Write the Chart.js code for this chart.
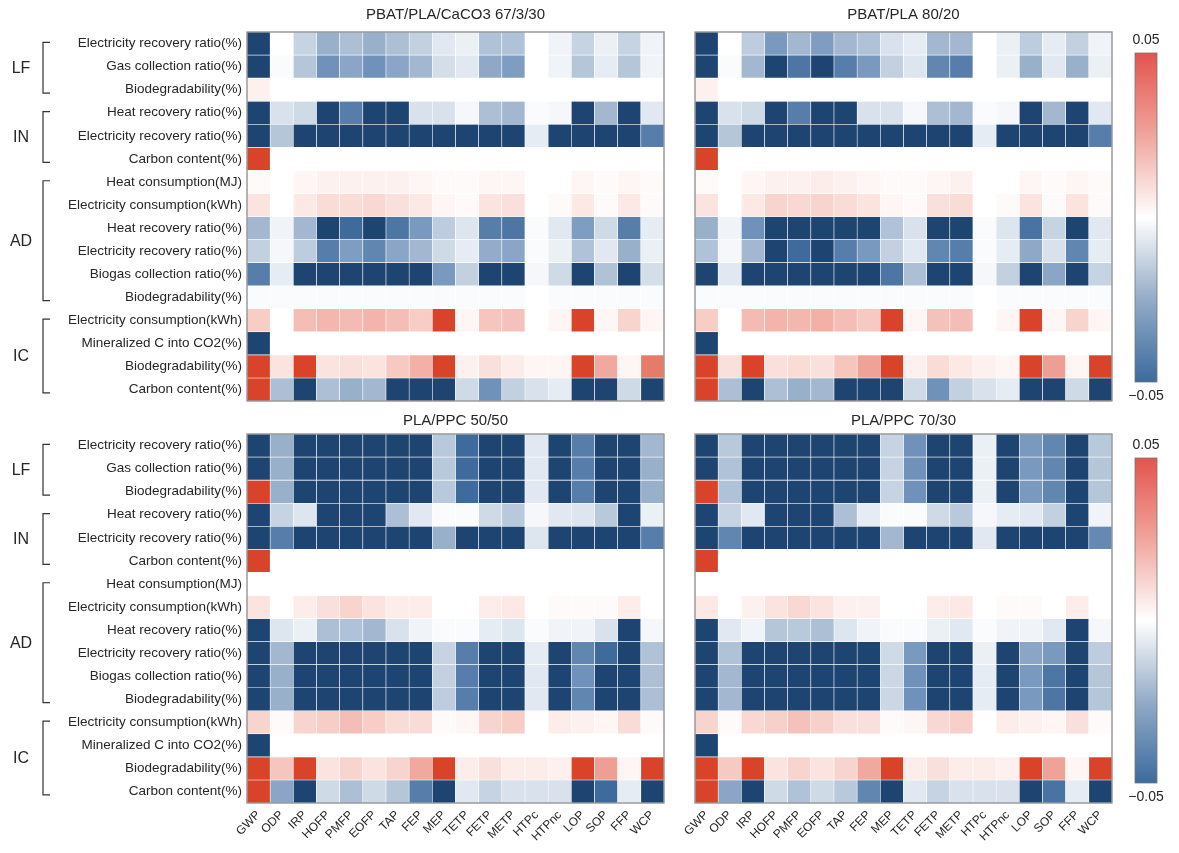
<!DOCTYPE html>
<html>
<head>
<meta charset="utf-8">
<title>Sensitivity heatmaps</title>
<script src="https://cdn.jsdelivr.net/npm/chart.js@4.4.1/dist/chart.umd.min.js"></script>
<style>
  body { margin: 0; background: #fff; }
  #wrap { position: relative; width: 1179px; height: 853px; overflow: hidden; }
  canvas { position: absolute; }
</style>
</head>
<body>
<div id="wrap">
  <canvas id="p1" width="680" height="415" style="left:0px;top:0px"></canvas>
  <canvas id="p2" width="490" height="415" style="left:640px;top:0px"></canvas>
  <canvas id="p3" width="680" height="443" style="left:0px;top:410px"></canvas>
  <canvas id="p4" width="490" height="443" style="left:640px;top:410px"></canvas>
  <canvas id="cb1" width="64" height="380" style="left:1115px;top:25px"></canvas>
  <canvas id="cb2" width="64" height="380" style="left:1115px;top:425px"></canvas>
</div>
<script>
// Statics
var METRICS = ['GWP', 'ODP', 'IRP', 'HOFP', 'PMFP', 'EOFP', 'TAP', 'FEP', 'MEP', 'TETP',
               'FETP', 'METP', 'HTPc', 'HTPnc', 'LOP', 'SOP', 'FFP', 'WCP'];

var ROW_LABELS = [
    'Electricity recovery ratio(%)', 'Gas collection ratio(%)', 'Biodegradability(%)',
    'Heat recovery ratio(%)', 'Electricity recovery ratio(%)', 'Carbon content(%)',
    'Heat consumption(MJ)', 'Electricity consumption(kWh)', 'Heat recovery ratio(%)',
    'Electricity recovery ratio(%)', 'Biogas collection ratio(%)', 'Biodegradability(%)',
    'Electricity consumption(kWh)', 'Mineralized C into CO2(%)', 'Biodegradability(%)', 'Carbon content(%)'
];

var GROUP_NAMES = ['LF', 'IN', 'AD', 'IC'];
var GROUP_SIZES = [3, 3, 6, 4];

var PANEL_TITLES = ['PBAT/PLA/CaCO3 67/3/30', 'PBAT/PLA 80/20', 'PLA/PPC 50/50', 'PLA/PPC 70/30'];

var CB_TICKS = [0.05, -0.05];
var CB_LABELS = ['0.05', '\u22120.05'];

// one row per parameter, one column per metric (same order as METRICS)
var PBAT_CACO3 = [
    [-0.05, 0, -0.012, -0.022, -0.018, -0.022, -0.018, -0.013, -0.006, -0.004, -0.017, -0.017, 0, -0.003, -0.012, -0.004, -0.012, -0.003],
    [-0.05, -0.001, -0.016, -0.030, -0.025, -0.030, -0.025, -0.020, -0.009, -0.006, -0.024, -0.027, 0, -0.003, -0.016, -0.005, -0.016, -0.003],
    [0.003, 0, 0, 0, 0, 0, 0, 0, 0, 0, 0, 0, 0, 0, 0, 0, 0, 0],
    [-0.05, -0.008, -0.010, -0.05, -0.035, -0.05, -0.05, -0.008, -0.008, -0.002, -0.018, -0.020, -0.001, -0.002, -0.05, -0.020, -0.05, -0.006],
    [-0.05, -0.016, -0.05, -0.05, -0.05, -0.05, -0.05, -0.05, -0.05, -0.05, -0.05, -0.05, -0.005, -0.05, -0.05, -0.05, -0.05, -0.035],
    [0.05, 0, 0, 0, 0, 0, 0, 0, 0, 0, 0, 0, 0, 0, 0, 0, 0, 0],
    [0.001, 0, 0.002, 0.003, 0.003, 0.003, 0.003, 0.002, 0.001, 0.001, 0.002, 0.002, 0, 0, 0.002, 0.001, 0.002, 0.001],
    [0.006, 0, 0.005, 0.008, 0.008, 0.009, 0.007, 0.005, 0.002, 0.001, 0.006, 0.007, 0, 0.001, 0.005, 0.001, 0.005, 0.001],
    [-0.020, -0.003, -0.020, -0.05, -0.040, -0.05, -0.037, -0.028, -0.014, -0.007, -0.035, -0.037, -0.001, -0.006, -0.027, -0.010, -0.035, -0.005],
    [-0.013, -0.002, -0.014, -0.035, -0.027, -0.033, -0.025, -0.020, -0.010, -0.005, -0.023, -0.025, -0.001, -0.004, -0.017, -0.006, -0.022, -0.004],
    [-0.035, -0.005, -0.05, -0.05, -0.05, -0.05, -0.05, -0.05, -0.028, -0.013, -0.05, -0.05, -0.002, -0.010, -0.05, -0.017, -0.05, -0.009],
    [-0.001, -0.001, -0.001, -0.001, -0.001, -0.001, -0.001, -0.001, -0.001, -0.001, -0.001, -0.001, 0, -0.001, -0.001, -0.001, -0.001, -0.001],
    [0.012, 0, 0.016, 0.018, 0.017, 0.019, 0.016, 0.012, 0.05, 0.002, 0.014, 0.015, 0, 0.002, 0.05, 0.002, 0.010, 0.002],
    [-0.05, 0, 0, 0, 0, 0, 0, 0, 0, 0, 0, 0, 0, 0, 0, 0, 0, 0],
    [0.05, 0.006, 0.05, 0.006, 0.007, 0.006, 0.013, 0.020, 0.05, 0.003, 0.007, 0.004, 0.002, 0.002, 0.05, 0.022, 0.002, 0.035],
    [0.05, -0.018, -0.05, -0.018, -0.022, -0.020, -0.05, -0.05, -0.05, -0.010, -0.030, -0.013, -0.008, -0.005, -0.05, -0.05, -0.010, -0.05]
];

var PBAT_PLA = [
    [-0.05, 0, -0.014, -0.028, -0.020, -0.027, -0.020, -0.017, -0.008, -0.005, -0.020, -0.020, 0, -0.004, -0.014, -0.005, -0.013, -0.003],
    [-0.05, -0.001, -0.020, -0.05, -0.037, -0.05, -0.035, -0.028, -0.013, -0.007, -0.033, -0.035, 0, -0.004, -0.022, -0.006, -0.022, -0.004],
    [0.003, 0, 0, 0, 0, 0, 0, 0, 0, 0, 0, 0, 0, 0, 0, 0, 0, 0],
    [-0.05, -0.008, -0.010, -0.05, -0.035, -0.05, -0.05, -0.008, -0.008, -0.002, -0.018, -0.020, -0.001, -0.002, -0.05, -0.020, -0.05, -0.006],
    [-0.05, -0.016, -0.05, -0.05, -0.05, -0.05, -0.05, -0.05, -0.05, -0.05, -0.05, -0.05, -0.005, -0.05, -0.05, -0.05, -0.05, -0.035],
    [0.05, 0, 0, 0, 0, 0, 0, 0, 0, 0, 0, 0, 0, 0, 0, 0, 0, 0],
    [0.001, 0, 0.002, 0.003, 0.003, 0.004, 0.003, 0.002, 0.001, 0.001, 0.002, 0.003, 0, 0, 0.002, 0.001, 0.002, 0.001],
    [0.006, 0, 0.005, 0.010, 0.009, 0.010, 0.008, 0.006, 0.002, 0.001, 0.007, 0.008, 0, 0.001, 0.006, 0.001, 0.006, 0.001],
    [-0.022, -0.003, -0.030, -0.05, -0.05, -0.05, -0.05, -0.05, -0.017, -0.008, -0.05, -0.05, -0.001, -0.007, -0.038, -0.012, -0.05, -0.006],
    [-0.017, -0.002, -0.020, -0.05, -0.040, -0.05, -0.035, -0.028, -0.013, -0.006, -0.033, -0.035, -0.001, -0.005, -0.024, -0.008, -0.033, -0.005],
    [-0.05, -0.006, -0.05, -0.05, -0.05, -0.05, -0.05, -0.05, -0.037, -0.018, -0.05, -0.05, -0.002, -0.013, -0.05, -0.025, -0.05, -0.012],
    [-0.001, -0.001, -0.001, -0.001, -0.001, -0.001, -0.001, -0.001, -0.001, -0.001, -0.001, -0.001, 0, -0.001, -0.001, -0.001, -0.001, -0.001],
    [0.012, 0, 0.017, 0.019, 0.018, 0.020, 0.016, 0.013, 0.05, 0.002, 0.015, 0.016, 0, 0.002, 0.05, 0.002, 0.010, 0.002],
    [-0.05, 0, 0, 0, 0, 0, 0, 0, 0, 0, 0, 0, 0, 0, 0, 0, 0, 0],
    [0.05, 0.007, 0.05, 0.007, 0.008, 0.007, 0.014, 0.024, 0.05, 0.003, 0.008, 0.005, 0.003, 0.002, 0.05, 0.025, 0.002, 0.05],
    [0.05, -0.018, -0.05, -0.018, -0.022, -0.020, -0.05, -0.05, -0.05, -0.010, -0.030, -0.013, -0.008, -0.005, -0.05, -0.05, -0.010, -0.05]
];

var PLA_PPC_5050 = [
    [-0.05, -0.022, -0.05, -0.05, -0.05, -0.05, -0.05, -0.05, -0.015, -0.040, -0.05, -0.05, -0.006, -0.05, -0.035, -0.05, -0.05, -0.020],
    [-0.05, -0.022, -0.05, -0.05, -0.05, -0.05, -0.05, -0.05, -0.015, -0.040, -0.05, -0.05, -0.006, -0.05, -0.035, -0.05, -0.05, -0.022],
    [0.05, -0.022, -0.05, -0.05, -0.05, -0.05, -0.05, -0.05, -0.015, -0.040, -0.05, -0.05, -0.006, -0.05, -0.035, -0.05, -0.05, -0.022],
    [-0.05, -0.012, -0.007, -0.05, -0.05, -0.05, -0.018, -0.006, -0.001, -0.001, -0.010, -0.015, -0.002, -0.006, -0.007, -0.015, -0.05, -0.004],
    [-0.05, -0.035, -0.05, -0.05, -0.05, -0.05, -0.05, -0.05, -0.022, -0.05, -0.05, -0.05, -0.007, -0.05, -0.05, -0.05, -0.05, -0.035],
    [0.05, 0, 0, 0, 0, 0, 0, 0, 0, 0, 0, 0, 0, 0, 0, 0, 0, 0],
    [0, 0, 0, 0, 0, 0, 0, 0, 0, 0, 0, 0, 0, 0, 0, 0, 0, 0],
    [0.006, 0, 0.004, 0.007, 0.010, 0.006, 0.004, 0.004, 0, 0, 0.004, 0.005, 0, 0.001, 0.001, 0.001, 0.004, 0],
    [-0.05, -0.007, -0.004, -0.018, -0.017, -0.020, -0.008, -0.003, -0.001, -0.001, -0.005, -0.007, -0.001, -0.003, -0.003, -0.008, -0.05, -0.002],
    [-0.05, -0.020, -0.05, -0.05, -0.05, -0.05, -0.05, -0.05, -0.012, -0.035, -0.05, -0.05, -0.005, -0.05, -0.033, -0.040, -0.05, -0.017],
    [-0.05, -0.022, -0.05, -0.05, -0.05, -0.05, -0.05, -0.05, -0.013, -0.035, -0.05, -0.05, -0.006, -0.05, -0.030, -0.05, -0.05, -0.018],
    [-0.05, -0.022, -0.05, -0.05, -0.05, -0.05, -0.05, -0.05, -0.014, -0.035, -0.05, -0.05, -0.006, -0.05, -0.033, -0.05, -0.05, -0.018],
    [0.010, 0.001, 0.010, 0.012, 0.016, 0.012, 0.008, 0.008, 0.001, 0.002, 0.010, 0.012, 0, 0.004, 0.003, 0.002, 0.008, 0.001],
    [-0.05, 0, 0, 0, 0, 0, 0, 0, 0, 0, 0, 0, 0, 0, 0, 0, 0, 0],
    [0.05, 0.014, 0.05, 0.006, 0.010, 0.006, 0.010, 0.022, 0.05, 0.004, 0.007, 0.004, 0.004, 0.003, 0.05, 0.025, 0.002, 0.05],
    [0.05, -0.025, -0.05, -0.010, -0.018, -0.010, -0.016, -0.035, -0.05, -0.006, -0.012, -0.008, -0.008, -0.008, -0.05, -0.040, -0.005, -0.05]
];

var PLA_PPC_7030 = [
    [-0.05, -0.015, -0.05, -0.05, -0.05, -0.05, -0.05, -0.05, -0.012, -0.030, -0.05, -0.05, -0.004, -0.05, -0.028, -0.033, -0.05, -0.015],
    [-0.05, -0.017, -0.05, -0.05, -0.05, -0.05, -0.05, -0.05, -0.012, -0.030, -0.05, -0.05, -0.004, -0.05, -0.028, -0.033, -0.05, -0.016],
    [0.05, -0.017, -0.05, -0.05, -0.05, -0.05, -0.05, -0.05, -0.012, -0.030, -0.05, -0.05, -0.004, -0.05, -0.028, -0.033, -0.05, -0.016],
    [-0.05, -0.012, -0.006, -0.05, -0.05, -0.05, -0.018, -0.005, -0.001, -0.001, -0.010, -0.015, -0.002, -0.005, -0.006, -0.013, -0.05, -0.003],
    [-0.05, -0.033, -0.05, -0.05, -0.05, -0.05, -0.05, -0.05, -0.020, -0.05, -0.05, -0.05, -0.006, -0.05, -0.05, -0.05, -0.05, -0.032],
    [0.05, 0, 0, 0, 0, 0, 0, 0, 0, 0, 0, 0, 0, 0, 0, 0, 0, 0],
    [0, 0, 0, 0, 0, 0, 0, 0, 0, 0, 0, 0, 0, 0, 0, 0, 0, 0],
    [0.005, 0, 0.003, 0.006, 0.009, 0.006, 0.003, 0.003, 0, 0, 0.004, 0.005, 0, 0.001, 0.001, 0, 0.004, 0],
    [-0.05, -0.006, -0.003, -0.016, -0.015, -0.018, -0.007, -0.003, -0.001, -0.001, -0.004, -0.006, -0.001, -0.003, -0.003, -0.006, -0.05, -0.002],
    [-0.05, -0.017, -0.05, -0.05, -0.05, -0.05, -0.05, -0.05, -0.010, -0.028, -0.05, -0.05, -0.004, -0.05, -0.025, -0.028, -0.05, -0.014],
    [-0.05, -0.020, -0.05, -0.05, -0.05, -0.05, -0.05, -0.05, -0.011, -0.030, -0.05, -0.05, -0.005, -0.05, -0.028, -0.037, -0.05, -0.016],
    [-0.05, -0.020, -0.05, -0.05, -0.05, -0.05, -0.05, -0.05, -0.011, -0.030, -0.05, -0.05, -0.005, -0.05, -0.028, -0.037, -0.05, -0.016],
    [0.010, 0.001, 0.009, 0.011, 0.015, 0.011, 0.007, 0.007, 0.001, 0.002, 0.009, 0.011, 0, 0.004, 0.003, 0.002, 0.007, 0.001],
    [-0.05, 0, 0, 0, 0, 0, 0, 0, 0, 0, 0, 0, 0, 0, 0, 0, 0, 0],
    [0.05, 0.013, 0.05, 0.006, 0.010, 0.006, 0.010, 0.022, 0.05, 0.004, 0.007, 0.004, 0.004, 0.003, 0.05, 0.024, 0.002, 0.05],
    [0.05, -0.025, -0.05, -0.010, -0.017, -0.010, -0.015, -0.033, -0.05, -0.006, -0.012, -0.008, -0.008, -0.008, -0.05, -0.038, -0.005, -0.05]
];

// colour scale, clipped at +/-0.05
var LIMIT = 0.05;
var NEG_STOPS = [[0, '#ffffff'], [0.1, '#e6ecf3'], [0.2, '#cfdae7'], [0.4, '#a3b8d0'],
                 [0.6, '#7091b9'], [0.8, '#3f6b9c'], [1, '#1e4572']];
var POS_STOPS = [[0, '#ffffff'], [0.1, '#fce8e5'], [0.2, '#f8d4ce'], [0.4, '#f2b0a7'],
                 [0.7, '#e77b6a'], [1, '#d8432a']];
var FONT = '"Liberation Sans", Arial, Helvetica, sans-serif';
var TEXT_COLOR = '#262626';

Chart.defaults.font.family = FONT;
Chart.defaults.color = TEXT_COLOR;

function hexToRgb(hex) {
    var n = parseInt(hex.slice(1), 16);
    return [(n >> 16) & 255, (n >> 8) & 255, n & 255];
}

function cellColor(v) {
    var t = Math.min(Math.abs(v) / LIMIT, 1);
    var stops = v < 0 ? NEG_STOPS : POS_STOPS;
    for (var i = 1; i < stops.length; i++) {
        if (t <= stops[i][0]) {
            var a = hexToRgb(stops[i - 1][1]), b = hexToRgb(stops[i][1]);
            var f = (t - stops[i - 1][0]) / (stops[i][0] - stops[i - 1][0]);
            var rgb = a.map(function (c, k) { return Math.round(c + (b[k] - c) * f); });
            return 'rgb(' + rgb.join(',') + ')';
        }
    }
    return stops[stops.length - 1][1];
}

// frame round the plot area + panel title above it
var framePlugin = {
    id: 'frame',
    afterDatasetsDraw: function (chart) {
        var a = chart.chartArea, ctx = chart.ctx;
        var opt = chart.options.plugins.frame;
        ctx.save();
        ctx.strokeStyle = '#8c8c8c';
        ctx.lineWidth = 1.3;
        ctx.strokeRect(a.left, a.top, a.right - a.left, a.bottom - a.top);
        ctx.fillStyle = TEXT_COLOR;
        ctx.font = '15px ' + FONT;
        ctx.textAlign = 'center';
        ctx.textBaseline = 'middle';
        ctx.fillText(opt.title, (a.left + a.right) / 2, a.top - opt.gap);
        ctx.restore();
    }
};

// LF / IN / AD / IC brackets on the left panels
var groupPlugin = {
    id: 'groups',
    afterDraw: function (chart) {
        var y = chart.scales.y, ctx = chart.ctx;
        var start = 0;
        ctx.save();
        ctx.strokeStyle = '#333';
        ctx.lineWidth = 1.2;
        ctx.fillStyle = TEXT_COLOR;
        ctx.font = '16px ' + FONT;
        ctx.textAlign = 'center';
        ctx.textBaseline = 'middle';
        GROUP_NAMES.forEach(function (name, g) {
            var end = start + GROUP_SIZES[g];
            var top = y.getPixelForValue(start + 0.45);
            var bottom = y.getPixelForValue(end - 0.35);
            ctx.beginPath();
            ctx.moveTo(50, top); ctx.lineTo(43, top);
            ctx.lineTo(43, bottom); ctx.lineTo(50, bottom);
            ctx.stroke();
            ctx.fillText(name, 21, y.getPixelForValue((start + end) / 2) + 2);
            start = end;
        });
        ctx.restore();
    }
};

function renderHeatmap(canvasId, values, title, o) {
    var datasets = ROW_LABELS.map(function (label, r) {
        return {
            label: label,
            data: METRICS.map(function () { return [r, r + 1]; }), // row band
            backgroundColor: values[r].map(cellColor),
            borderColor: 'rgba(255,255,255,0.9)',
            borderWidth: 0.6,
            borderSkipped: false,
            grouped: false,
            barPercentage: 1,
            categoryPercentage: 1
        };
    });

    var xScale = {
        type: 'category',
        display: o.showMetrics,
        grid: { display: false, drawTicks: false },
        border: { display: false },
        ticks: { minRotation: 45, maxRotation: 45, autoSkip: false, padding: 5,
                 font: { size: 12 }, color: TEXT_COLOR }
    };
    if (o.showMetrics) xScale.afterFit = function (scale) { scale.height = 50; };

    var yScale = {
        type: 'linear',
        min: 0,
        max: ROW_LABELS.length,
        reverse: true,
        display: o.showRows,
        grid: { display: false, drawTicks: false },
        border: { display: false },
        afterBuildTicks: function (scale) {
            scale.ticks = ROW_LABELS.map(function (l, i) { return { value: i + 0.5 }; });
        },
        ticks: {
            autoSkip: false,
            padding: 5,
            font: { size: 13.5 },
            color: TEXT_COLOR,
            callback: function (value, index) { return ROW_LABELS[index]; }
        }
    };
    if (o.showRows) yScale.afterFit = function (scale) { scale.width = 247; };

    return new Chart(document.getElementById(canvasId), {
        type: 'bar',
        data: { labels: METRICS, datasets: datasets },
        options: {
            responsive: false,
            animation: false,
            layout: { padding: o.padding },
            plugins: {
                legend: { display: false },
                tooltip: { enabled: false },
                frame: { title: title, gap: o.titleGap }
            },
            scales: { x: xScale, y: yScale }
        },
        plugins: o.showRows ? [framePlugin, groupPlugin] : [framePlugin]
    });
}

// colour bar, drawn as one floating bar over the value scale
var cbLabelPlugin = {
    id: 'cbLabels',
    afterDatasetsDraw: function (chart) {
        var a = chart.chartArea, ctx = chart.ctx, y = chart.scales.y;
        ctx.save();
        ctx.strokeStyle = '#777';
        ctx.lineWidth = 0.8;
        ctx.strokeRect(a.left, a.top, a.right - a.left, a.bottom - a.top);
        ctx.fillStyle = TEXT_COLOR;
        ctx.font = '14px ' + FONT;
        ctx.textAlign = 'center';
        ctx.textBaseline = 'middle';
        CB_TICKS.forEach(function (v, i) {
            var py = y.getPixelForValue(v) + (v > 0 ? -13 : 14);
            ctx.fillText(CB_LABELS[i], (a.left + a.right) / 2, py);
        });
        ctx.restore();
    }
};

function renderColorbar(canvasId, padding) {
    return new Chart(document.getElementById(canvasId), {
        type: 'bar',
        data: {
            labels: ['scale'],
            datasets: [{
                data: [[-LIMIT, LIMIT]],
                barPercentage: 1,
                categoryPercentage: 1,
                backgroundColor: function (c) {
                    var a = c.chart.chartArea;
                    if (!a) return '#ffffff';
                    var g = c.chart.ctx.createLinearGradient(0, a.bottom, 0, a.top);
                    g.addColorStop(0, '#3b6b9d');
                    g.addColorStop(0.25, '#93abc8');
                    g.addColorStop(0.5, '#ffffff');
                    g.addColorStop(0.75, '#f0a59d');
                    g.addColorStop(1, '#e3544e');
                    return g;
                }
            }]
        },
        options: {
            responsive: false,
            animation: false,
            layout: { padding: padding },
            plugins: { legend: { display: false }, tooltip: { enabled: false } },
            scales: {
                x: { display: false },
                y: { display: false, min: -LIMIT, max: LIMIT }
            }
        },
        plugins: [cbLabelPlugin]
    });
}

// y labels need ~13px below the last row, so the top canvases run a little taller
renderHeatmap('p1', PBAT_CACO3, PANEL_TITLES[0],
    { showRows: true, showMetrics: false, titleGap: 17, padding: { top: 32, right: 16, bottom: 14, left: 0 } });
renderHeatmap('p2', PBAT_PLA, PANEL_TITLES[1],
    { showRows: false, showMetrics: false, titleGap: 17, padding: { top: 32, right: 18, bottom: 14, left: 55 } });
renderHeatmap('p3', PLA_PPC_5050, PANEL_TITLES[2],
    { showRows: true, showMetrics: true, titleGap: 13, padding: { top: 24, right: 16, bottom: 0, left: 0 } });
renderHeatmap('p4', PLA_PPC_7030, PANEL_TITLES[3],
    { showRows: false, showMetrics: true, titleGap: 13, padding: { top: 24, right: 18, bottom: 0, left: 55 } });

renderColorbar('cb1', { top: 28, bottom: 23, left: 20, right: 22 });
renderColorbar('cb2', { top: 33, bottom: 22, left: 20, right: 22 });
</script>
</body>
</html>
